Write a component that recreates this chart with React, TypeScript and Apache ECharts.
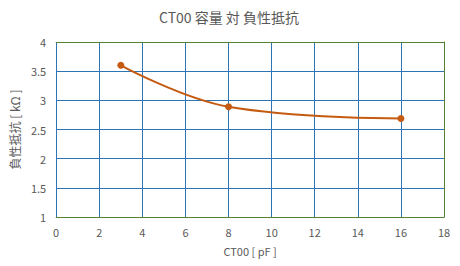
import React, { useEffect, useRef } from "react";
import * as echarts from "echarts";

const xValues = [3, 8, 16];
const yValues = [3.6, 2.89, 2.69];
const titleText = "CT00 容量 対 負性抵抗";
const xName = "CT00 [ pF ]";
const yName = "負性抵抗 [ kΩ ]";

export default function App() {
  const ref = useRef<HTMLDivElement>(null);
  useEffect(() => {
    const chart = echarts.init(ref.current!, null, { renderer: "svg" });
    const font = "'Noto Sans CJK JP', 'Noto Sans', sans-serif";
    const green = "#548235";
    const blue = "#2E75B6";
    const gray = "#595959";
    chart.setOption({
      animation: false,
      backgroundColor: "#ffffff",
      textStyle: { fontFamily: font },
      title: {
        text: titleText,
        left: 224,
        textAlign: "center",
        top: 5,
        textStyle: { fontSize: 14, fontWeight: "normal", color: gray, fontFamily: font },
      },
      grid: {
        left: 54,
        right: 16,
        top: 42,
        bottom: 49,
        show: false,
      },
      xAxis: [
        {
          type: "value",
          min: 0,
          max: 18,
          interval: 2,
          name: xName,
          nameLocation: "middle",
          nameGap: 28,
          nameTextStyle: { fontSize: 11, color: gray },
          axisLine: { show: false },
          axisTick: { show: false },
          axisLabel: { fontSize: 11, color: gray, margin: 9 },
          splitLine: { show: true, lineStyle: { color: blue, width: 1 } },
        },
        {
          type: "value",
          position: "bottom",
          min: 0,
          max: 18,
          interval: 2,
          z: 5,
          axisLine: { show: true, onZero: false, lineStyle: { color: green, width: 1 } },
          axisTick: { show: false },
          axisLabel: { show: false },
          splitLine: { show: false },
        },
        {
          type: "value",
          position: "top",
          min: 0,
          max: 18,
          interval: 2,
          z: 5,
          axisLine: { show: true, onZero: false, lineStyle: { color: green, width: 1 } },
          axisTick: { show: false },
          axisLabel: { show: false },
          splitLine: { show: false },
        },
      ],
      yAxis: [
        {
          type: "value",
          min: 1,
          max: 4,
          interval: 0.5,
          name: yName,
          nameLocation: "middle",
          nameGap: 36,
          nameTextStyle: { fontSize: 12, color: gray },
          axisLine: { show: false },
          axisTick: { show: false },
          axisLabel: { fontSize: 11, color: gray, margin: 10 },
          splitLine: { show: true, lineStyle: { color: blue, width: 1 } },
        },
        {
          type: "value",
          position: "right",
          min: 1,
          max: 4,
          interval: 0.5,
          z: 5,
          axisLine: { show: true, onZero: false, lineStyle: { color: green, width: 1 } },
          axisTick: { show: false },
          axisLabel: { show: false },
          splitLine: { show: false },
        },
      ],
      series: [
        {
          type: "line",
          xAxisIndex: 0,
          yAxisIndex: 0,
          z: 10,
          data: xValues.map((x, i) => [x, yValues[i]]),
          smooth: 0.4,
          symbol: "circle",
          symbolSize: 7,
          lineStyle: { color: "#C55A11", width: 2 },
          itemStyle: { color: "#C55A11" },
        },
      ],
    });
    return () => chart.dispose();
  }, []);
  return <div ref={ref} style={{ width: 460, height: 266, position: "absolute", left: 0, top: 0 }} />;
}
